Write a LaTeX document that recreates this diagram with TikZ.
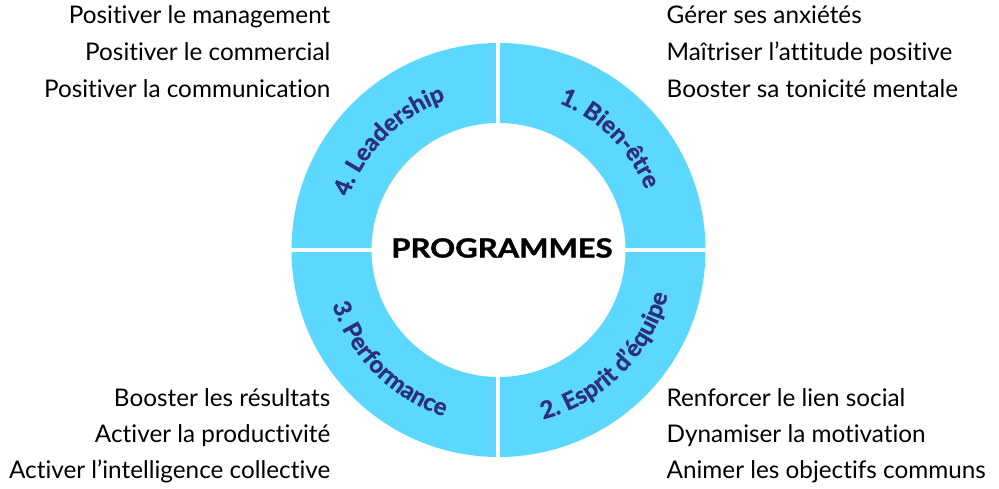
\documentclass[tikz,border=0pt]{standalone}
\usepackage{fontspec}
\setmainfont{Lato}[Ligatures={NoCommon}]
\usetikzlibrary{decorations.text}
\definecolor{ringblue}{RGB}{92,216,254}
\definecolor{navy}{RGB}{45,47,125}
\newcommand{\heavy}{\bfseries\addfontfeatures{FakeBold=1.2}}
\tikzstyle{item} = [inner sep=0pt, font=\fontsize{24.3}{28}\selectfont]
\tikzstyle{gap} = [white, line width=4pt]
\tikzset{ring text/.style={decorate, decoration={text along path, text align=center,
    text color=navy, text={|\fontsize{24}{28}\selectfont\heavy|#1}}}}

\begin{document}
\begin{tikzpicture}[x=1pt, y=1pt]
\useasboundingbox (-498.5,-239) rectangle (500.5,250);

\fill[ringblue, even odd rule] (0,0) circle[radius=207] (0,0) circle[radius=127];
\foreach \a in {0,90,180,270}
    \draw[gap] (\a:125) -- (\a:209);
\node[inner sep=0pt, font=\fontsize{26.5}{30}\selectfont\heavy] (prog) at (3.5,2)
    {\scalebox{1.17}[1]{PROGRAMMES}};

\path[ring text={1. Bien-être}] (90:159) arc[start angle=90, end angle=0, radius=159];
\path[ring text={2. Esprit d’équipe}] (270:175) arc[start angle=270, end angle=360, radius=175];
\path[ring text={3. Performance}] (180:175) arc[start angle=180, end angle=270, radius=175];
\path[ring text={4. Leadership}] (180:159) arc[start angle=180, end angle=90, radius=159];

\node[item, anchor=base west] (bien1) at (168,226) {Gérer ses anxiétés};
\node[item, anchor=base west] (bien2) at (168,189) {Maîtriser l’attitude positive};
\node[item, anchor=base west] (bien3) at (168,152) {Booster sa tonicité mentale};

\node[item, anchor=base west] (esprit1) at (168,-157) {Renforcer le lien social};
\node[item, anchor=base west] (esprit2) at (168,-193) {Dynamiser la motivation};
\node[item, anchor=base west] (esprit3) at (168,-229) {Animer les objectifs communs};

\node[item, anchor=base east] (perf1) at (-168,-157) {Booster les résultats};
\node[item, anchor=base east] (perf2) at (-168,-193) {Activer la productivité};
\node[item, anchor=base east] (perf3) at (-168,-229) {Activer l’intelligence collective};

\node[item, anchor=base east] (lead1) at (-168,226) {Positiver le management};
\node[item, anchor=base east] (lead2) at (-168,189) {Positiver le commercial};
\node[item, anchor=base east] (lead3) at (-168,152) {Positiver la communication};
\end{tikzpicture}
\end{document}
